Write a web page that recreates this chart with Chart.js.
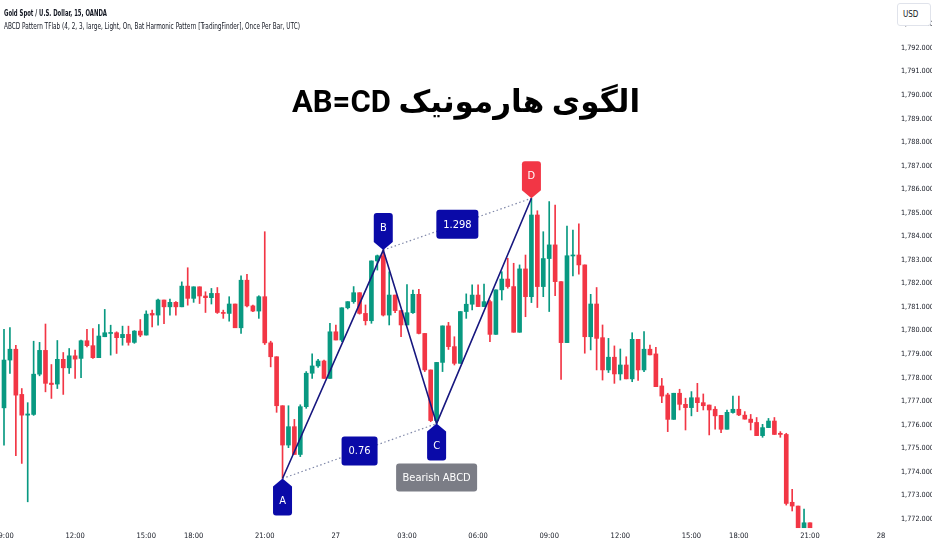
<!DOCTYPE html>
<html><head><meta charset="utf-8">
<script src="https://cdn.jsdelivr.net/npm/chart.js@4.4.0/dist/chart.umd.min.js"></script>
<style>
html,body{margin:0;padding:0;background:#fff;}
#wrap{position:relative;width:932px;height:550px;overflow:hidden;background:#fff;}
canvas{position:absolute;left:0;top:0;}
.hdr{position:absolute;left:4px;white-space:nowrap;font-family:"Liberation Sans Narrow","DejaVu Sans Condensed",Arial,sans-serif;color:#131722;transform-origin:0 50%;line-height:10px;}
#h1{top:8px;font-size:8.5px;font-weight:bold;}
#h2{top:21px;font-size:8.5px;}
#title{position:absolute;left:0;width:932px;top:82px;text-align:center;font-family:Roboto,"DejaVu Sans",sans-serif;font-weight:700;font-size:31px;line-height:40px;color:#000;direction:rtl;}
#usd{position:absolute;left:897px;top:3px;width:34px;height:23px;box-sizing:border-box;border:1px solid #e0e3eb;border-radius:3px;background:#fff;font-family:"Liberation Sans Narrow","DejaVu Sans Condensed",Arial,sans-serif;font-size:8px;line-height:21px;padding-left:5px;color:#131722;}
</style>
</head>
<body>
<div id="wrap">
<canvas id="c" width="932" height="550"></canvas>
<div id="h1" class="hdr">Gold Spot / U.S. Dollar, 15, OANDA</div>
<div id="h2" class="hdr">ABCD Pattern TFlab (4, 2, 3, large, Light, On, Bat Harmonic Pattern [TradingFinder], Once Per Bar, UTC)</div>
<div id="title">الگوی هارمونیک AB=CD</div>
<div id="usd">USD</div>
</div>
<script>
// ---- data (15-minute candles, index 0 = 09:00 on the 26th) ----
const opens = [1776.72,1778.75,1779.21,1777.29,1776.41,1776.44,1778.15,1779.16,1777.77,1777.73,
1778.78,1778.42,1778.93,1778.82,1779.57,1779.36,1778.85,1779.74,1779.88,1779.91,
1779.70,1779.84,1779.50,1779.98,1779.81,1780.73,1780.66,1781.30,1781.01,1781.20,
1781.01,1781.89,1781.37,1781.86,1781.47,1781.40,1781.58,1780.77,1780.73,1781.13,
1780.12,1782.14,1781.05,1780.83,1781.44,1779.48,1778.89,1776.81,1775.14,1775.92,
1774.74,1776.77,1778.19,1778.50,1778.71,1777.97,1779.95,1779.60,1780.97,1781.23,
1781.61,1780.73,1780.42,1782.96,1783.18,1780.66,1781.51,1780.85,1780.24,1780.76,
1781.54,1779.88,1778.33,1776.18,1778.65,1780.20,1779.32,1778.61,1780.81,1781.12,
1781.51,1781.02,1781.23,1779.84,1781.73,1782.19,1781.87,1779.93,1782.62,1781.44,
1784.91,1781.87,1783.06,1783.64,1782.08,1779.49,1783.17,1783.21,1782.79,1779.74,
1781.13,1779.70,1778.33,1778.87,1778.16,1778.54,1777.95,1779.63,1778.33,1779.21,
1779.01,1777.65,1777.27,1776.23,1777.34,1776.87,1776.73,1777.15,1776.94,1776.84,
1776.66,1776.40,1775.81,1776.52,1776.66,1776.41,1776.24,1776.10,1775.54,1775.88,
1776.16,1775.64,1775.59,1772.71,1772.55,1771.63,1771.84];
const highs = [1780.05,1780.13,1779.38,1777.54,1776.94,1779.55,1779.50,1780.28,1778.56,1779.58,
1779.07,1779.24,1779.17,1779.60,1780.05,1780.09,1780.26,1780.90,1780.23,1779.95,
1780.19,1780.19,1780.00,1780.47,1780.84,1780.87,1781.34,1781.30,1781.34,1781.23,
1782.07,1782.67,1781.86,1781.86,1781.65,1781.79,1781.83,1780.87,1781.44,1781.13,
1782.33,1782.39,1781.08,1781.48,1784.20,1779.55,1778.89,1776.81,1776.81,1776.23,
1776.85,1778.26,1779.01,1778.78,1778.75,1780.31,1780.24,1780.97,1781.23,1781.87,
1781.61,1781.09,1782.96,1783.21,1783.42,1782.50,1781.51,1780.85,1781.96,1781.72,
1781.75,1779.88,1778.33,1778.65,1780.20,1780.35,1779.74,1780.81,1781.56,1781.94,
1781.94,1781.98,1781.30,1781.73,1782.50,1783.07,1782.86,1782.79,1783.21,1785.62,
1785.09,1784.20,1785.48,1785.33,1782.08,1784.44,1784.27,1784.53,1782.79,1781.54,
1781.83,1780.24,1779.67,1779.35,1779.22,1778.89,1779.91,1779.63,1779.96,1779.39,
1779.29,1777.97,1777.34,1777.34,1777.51,1777.13,1777.41,1777.76,1777.31,1776.84,
1776.77,1776.40,1776.63,1777.22,1777.22,1776.56,1776.44,1776.31,1776.02,1776.27,
1776.31,1775.71,1775.64,1773.26,1772.55,1772.42,1771.84];
const lows = [1775.14,1778.18,1774.69,1774.36,1772.73,1776.40,1778.08,1777.40,1777.12,1777.54,
1777.29,1778.18,1777.97,1778.00,1779.31,1778.82,1778.85,1779.74,1778.96,1779.03,
1779.38,1779.38,1779.46,1779.74,1779.81,1780.16,1780.23,1780.30,1780.66,1780.66,
1781.01,1781.08,1781.20,1781.15,1780.77,1781.13,1780.73,1780.52,1780.40,1780.12,
1779.88,1781.01,1780.80,1780.52,1779.41,1778.46,1776.53,1773.72,1775.03,1774.74,
1774.65,1776.70,1777.97,1778.44,1777.97,1777.97,1779.60,1779.53,1780.92,1781.16,
1780.70,1780.24,1780.31,1782.57,1780.62,1780.24,1780.76,1779.74,1780.24,1780.73,
1779.86,1778.26,1776.13,1776.05,1778.26,1779.20,1778.54,1778.61,1780.52,1780.88,
1781.02,1781.02,1779.53,1779.84,1781.30,1781.80,1779.93,1779.93,1780.59,1781.19,
1780.98,1781.44,1780.81,1781.48,1777.93,1779.49,1782.32,1782.40,1779.04,1779.18,
1778.33,1777.90,1778.22,1777.76,1777.90,1777.95,1777.83,1777.88,1778.26,1778.97,
1777.62,1776.94,1775.71,1776.23,1776.63,1775.78,1776.38,1776.56,1776.63,1775.57,
1775.81,1775.67,1775.81,1776.49,1776.39,1776.24,1775.78,1775.54,1775.47,1775.88,
1775.59,1775.47,1772.59,1772.34,1771.63,1771.63,1771.63];
const closes = [1778.75,1779.21,1777.26,1776.41,1776.46,1778.15,1779.16,1777.76,1777.71,1778.78,
1778.42,1778.93,1778.79,1779.57,1779.36,1778.85,1779.77,1779.91,1779.92,1779.70,
1779.84,1779.50,1779.98,1779.81,1780.70,1780.66,1781.30,1781.01,1781.20,1781.01,
1781.89,1781.37,1781.86,1781.47,1781.40,1781.58,1780.77,1780.73,1781.13,1780.12,
1782.14,1781.05,1780.83,1781.44,1779.48,1778.89,1776.81,1775.14,1775.92,1774.74,
1776.77,1778.19,1778.50,1778.71,1777.97,1779.95,1779.60,1780.97,1781.23,1781.61,
1780.73,1780.42,1782.96,1783.18,1780.66,1781.51,1780.85,1780.24,1780.76,1781.54,
1779.88,1778.33,1776.18,1778.65,1780.20,1779.32,1778.61,1780.81,1781.12,1781.51,
1781.02,1781.23,1779.84,1781.73,1782.19,1781.87,1779.93,1782.62,1781.44,1784.91,
1781.87,1783.06,1783.64,1782.08,1779.49,1783.18,1783.21,1782.79,1779.74,1781.13,
1779.67,1778.33,1778.87,1778.16,1778.54,1777.95,1779.63,1778.33,1779.21,1778.97,
1777.62,1777.22,1776.23,1777.34,1776.87,1776.73,1777.15,1776.94,1776.81,1776.63,
1776.38,1775.81,1776.53,1776.66,1776.42,1776.24,1776.10,1775.54,1775.88,1776.16,
1775.59,1775.59,1772.66,1772.55,1771.63,1771.84,1771.63];

const timeTickIdx  = [0, 12, 24, 32, 44, 56, 68, 80, 92, 104, 116, 124, 136, 148];
const timeTickText = ['09:00','12:00','15:00','18:00','21:00','27','03:00','06:00','09:00','12:00','15:00','18:00','21:00','28'];
const priceTicks = [1772,1773,1774,1775,1776,1777,1778,1779,1780,1781,1782,1783,1784,1785,1786,1787,1788,1789,1790,1791,1792,1793];

const patternNames = ['A','B','C','D'];
const patternIdx   = [47, 64, 73, 89];
const patternPrice = [1773.72, 1783.42, 1776.05, 1785.62];
const ratioText    = ['0.76', '1.298'];
const patternLabel = 'Bearish ABCD';

// ---- styling ----
const UP = '#089981', DOWN = '#f23645';
const NARROW = '"Liberation Sans Narrow","DejaVu Sans Condensed",Arial,sans-serif';
const BLUE = '#0a0aa8', GRAY = '#7b7d86';

const colors = closes.map((c,i)=> c >= opens[i] ? UP : DOWN);
const bodyData = closes.map((c,i)=>({x:i, y:[opens[i], c]}));
const wickData = closes.map((c,i)=>({x:i, y:[lows[i], highs[i]]}));
const pt = k => ({x: patternIdx[k], y: patternPrice[k]});

function rr(ctx,x,y,w,h,r){
  ctx.beginPath();
  ctx.moveTo(x+r,y); ctx.lineTo(x+w-r,y); ctx.arcTo(x+w,y,x+w,y+r,r);
  ctx.lineTo(x+w,y+h-r); ctx.arcTo(x+w,y+h,x+w-r,y+h,r);
  ctx.lineTo(x+r,y+h); ctx.arcTo(x,y+h,x,y+h-r,r);
  ctx.lineTo(x,y+r); ctx.arcTo(x,y,x+r,y,r); ctx.closePath();
}
function tag(ctx,x,tip,below,color,text){
  const w=19,h=29,p=8,r=3,hw=w/2;
  ctx.beginPath();
  let cy;
  if(below){
    const t=tip+p, b=t+h;
    ctx.moveTo(x,tip); ctx.lineTo(x+hw,t);
    ctx.lineTo(x+hw,b-r); ctx.arcTo(x+hw,b,x+hw-r,b,r);
    ctx.lineTo(x-hw+r,b); ctx.arcTo(x-hw,b,x-hw,b-r,r);
    ctx.lineTo(x-hw,t); ctx.closePath(); cy=t+h/2;
  } else {
    const b=tip-p, t=b-h;
    ctx.moveTo(x,tip); ctx.lineTo(x-hw,b);
    ctx.lineTo(x-hw,t+r); ctx.arcTo(x-hw,t,x-hw+r,t,r);
    ctx.lineTo(x+hw-r,t); ctx.arcTo(x+hw,t,x+hw,t+r,r);
    ctx.lineTo(x+hw,b); ctx.closePath(); cy=t+h/2;
  }
  ctx.fillStyle=color; ctx.fill();
  ctx.fillStyle='#fff'; ctx.fillText(text,x,cy+0.5);
}

const abcdPlugin = {
  id:'abcd',
  afterDatasetsDraw(chart){
    const {ctx, scales:{x,y}} = chart;
    const P = patternIdx.map((v,k)=>({px:x.getPixelForValue(v), py:y.getPixelForValue(patternPrice[k])}));
    ctx.save();
    ctx.font = '11px '+NARROW;
    ctx.textAlign='center'; ctx.textBaseline='middle';
    [[0,2],[1,3]].forEach(([a,b],k)=>{
      const cx=(P[a].px+P[b].px)/2, cy=(P[a].py+P[b].py)/2;
      const w=Math.round(ctx.measureText(ratioText[k]).width+14), h=29;
      rr(ctx,cx-w/2,cy-h/2,w,h,3); ctx.fillStyle=BLUE; ctx.fill();
      ctx.fillStyle='#fff'; ctx.fillText(ratioText[k],cx,cy+0.5);
    });
    const below=[true,false,true,false];
    const tcol=[BLUE,BLUE,BLUE,DOWN];
    patternNames.forEach((n,k)=> tag(ctx,P[k].px,P[k].py,below[k],tcol[k],n));
    const c=P[2];
    const w=Math.round(ctx.measureText(patternLabel).width+13), h=28, top=c.py+8+29+3;
    rr(ctx,c.px-w/2,top,w,h,3); ctx.fillStyle=GRAY; ctx.fill();
    ctx.fillStyle='#fff'; ctx.fillText(patternLabel,c.px,top+h/2+0.5);
    ctx.restore();
  }
};

new Chart(document.getElementById('c'), {
  type:'bar',
  data:{
    datasets:[
      {type:'line', data:[pt(0),pt(1),pt(2),pt(3)], borderColor:'#17177f', borderWidth:1.6, pointRadius:0, order:1, tension:0},
      {type:'line', data:[pt(0),pt(2)], borderColor:'#7f87a8', borderWidth:1.2, borderDash:[1.5,2.5], pointRadius:0, order:2},
      {type:'line', data:[pt(1),pt(3)], borderColor:'#7f87a8', borderWidth:1.2, borderDash:[1.5,2.5], pointRadius:0, order:2},
      {label:'wick', data:wickData, backgroundColor:colors, barThickness:1, grouped:false, order:4},
      {label:'body', data:bodyData, backgroundColor:colors, barThickness:4, minBarLength:1, grouped:false, order:3}
    ]
  },
  options:{
    responsive:false, animation:false, devicePixelRatio:1,
    layout:{padding:0},
    plugins:{legend:{display:false}, tooltip:{enabled:false}},
    scales:{
      x:{type:'linear', min:-0.675, max:149.0, offset:false,
        grid:{display:false, drawTicks:false}, border:{display:false},
        ticks:{autoSkip:false, maxRotation:0, minRotation:0, padding:3, color:'#131722',
          font:{family:NARROW, size:7.5},
          callback:(v,i)=> timeTickText[i]},
        afterBuildTicks:s=>{ s.ticks = timeTickIdx.map(v=>({value:v})); },
        afterFit:s=>{ s.height=21; s.paddingLeft=0; s.paddingRight=0; }
      },
      y:{type:'linear', position:'right', min:1771.575, max:1794.04,
        grid:{display:false, drawTicks:false}, border:{display:false},
        ticks:{padding:14, color:'#131722', font:{family:NARROW, size:7.2},
          callback:v=> Number(v).toLocaleString('en-US',{minimumFractionDigits:3, maximumFractionDigits:3})},
        afterBuildTicks:s=>{ s.ticks = priceTicks.map(v=>({value:v})); },
        afterFit:s=>{ s.width=45; s.paddingTop=0; s.paddingBottom=0; }
      }
    }
  },
  plugins:[abcdPlugin]
});

[['h1',103],['h2',296]].forEach(([id,target])=>{
  const el=document.getElementById(id);
  const w=el.getBoundingClientRect().width;
  if(w>0) el.style.transform='scaleX('+(target/w)+')';
});
</script>
</body></html>
